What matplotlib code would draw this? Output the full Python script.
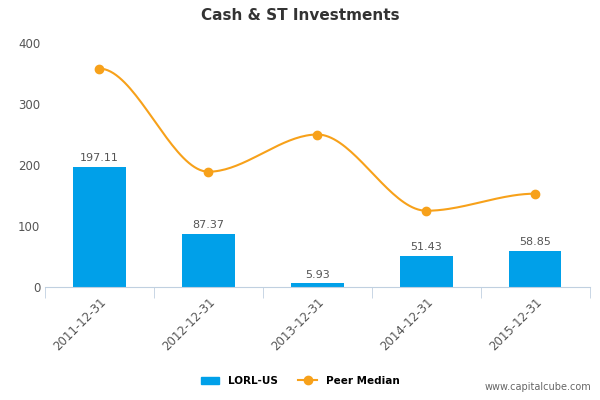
import matplotlib.pyplot as plt
import numpy as np

categories = ["2011-12-31", "2012-12-31", "2013-12-31", "2014-12-31", "2015-12-31"]
lorl_values = [197.11, 87.37, 5.93, 51.43, 58.85]
peer_median = [358, 189, 250, 125, 153]
y_ticks = [0, 100, 200, 300, 400]

BAR_COLOR = "#00a0e9"
LINE_COLOR = "#f7a11a"


def smooth_curve(xs, ys, n=40):
    # cubic hermite through the points, flat tangents at local extrema
    xs = np.asarray(xs, float)
    ys = np.asarray(ys, float)
    m = np.zeros_like(ys)
    for i in range(1, len(ys) - 1):
        d1 = ys[i] - ys[i - 1]
        d2 = ys[i + 1] - ys[i]
        m[i] = 0 if d1 * d2 <= 0 else (d1 + d2) / 2
    out_x, out_y = [], []
    for i in range(len(xs) - 1):
        t = np.linspace(0, 1, n)
        h00 = 2 * t**3 - 3 * t**2 + 1
        h10 = t**3 - 2 * t**2 + t
        h01 = -2 * t**3 + 3 * t**2
        h11 = t**3 - t**2
        out_x.extend(xs[i] + t * (xs[i + 1] - xs[i]))
        out_y.extend(h00 * ys[i] + h10 * m[i] + h01 * ys[i + 1] + h11 * m[i + 1])
    return out_x, out_y


fig = plt.figure(figsize=(6, 4), dpi=100)
ax = fig.add_axes([0.075, 0.2825, 0.908, 0.61])

x = np.arange(len(categories))
bars = ax.bar(x, lorl_values, width=0.48, color=BAR_COLOR, zorder=2)
for xi, v in zip(x, lorl_values):
    ax.text(xi, v + 6, f"{v:.2f}", ha="center", va="bottom", fontsize=8, color="#555555")

cx, cy = smooth_curve(x, peer_median)
ax.plot(cx, cy, color=LINE_COLOR, linewidth=1.5, zorder=3)
ax.plot(x, peer_median, "o", color=LINE_COLOR, markersize=6, zorder=4)

ax.set_xlim(-0.5, len(categories) - 0.5)
ax.set_ylim(0, 400)
ax.set_yticks(y_ticks)
ax.set_xticks(x)
ax.set_xticklabels(categories, rotation=45, ha="right", rotation_mode="anchor")
ax.tick_params(axis="y", length=0, labelsize=8.5, labelcolor="#555555")
ax.tick_params(axis="x", length=0, labelsize=8.5, labelcolor="#555555", pad=6)
ax.set_xticks(np.arange(-0.5, len(categories), 1), minor=True)
ax.tick_params(axis="x", which="minor", length=8, color="#c0d0e0")
for side in ["top", "right", "left"]:
    ax.spines[side].set_visible(False)
ax.spines["bottom"].set_color("#c0d0e0")

fig.text(0.5, 0.96, "Cash & ST Investments", ha="center", va="center",
         fontsize=11, fontweight="bold", color="#333333")

handles = [
    plt.Rectangle((0, 0), 1, 1, color=BAR_COLOR),
    plt.Line2D([0], [0], color=LINE_COLOR, marker="o", markersize=6, linewidth=1.5),
]
fig.legend(handles, ["LORL-US", "Peer Median"], loc="center", bbox_to_anchor=(0.5, 0.048),
           ncol=2, frameon=False, fontsize=7.5, handlelength=1.8, columnspacing=2,
           prop={"weight": "bold", "size": 7.5})

fig.text(0.985, 0.02, "www.capitalcube.com", ha="right", va="bottom", fontsize=7, color="#666666")

fig.savefig("out.png", dpi=100)
